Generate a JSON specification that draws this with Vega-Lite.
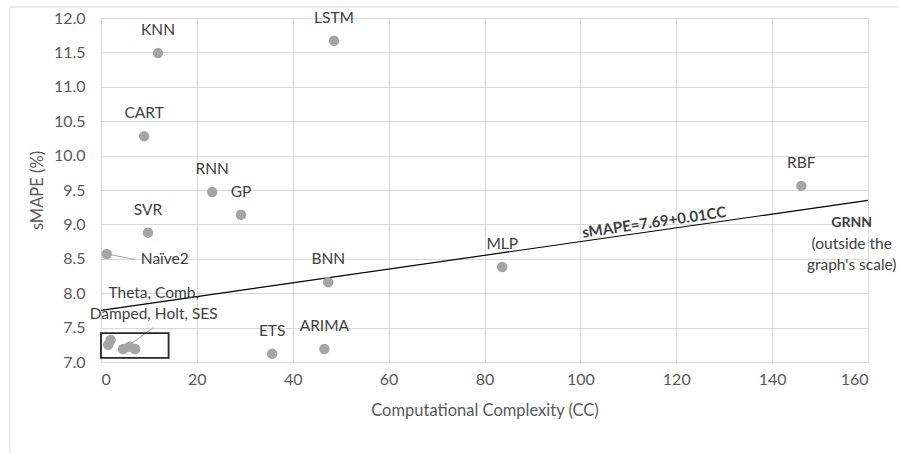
{
  "$schema": "https://vega.github.io/schema/vega-lite/v6.json",
  "autosize": {"type": "none"},
  "width": 767,
  "height": 344,
  "padding": {"left": 101, "top": 18, "right": 31, "bottom": 91},
  "background": "white",
  "config": {
    "font": "Lato",
    "view": {"stroke": "#d9d9d9"},
    "axis": {"grid": true, "gridColor": "#d9d9d9", "domainColor": "#d9d9d9", "ticks": false, "labelColor": "#595959", "titleColor": "#595959", "labelFontSize": 16, "titleFontSize": 16.5, "titleFontWeight": "normal", "labelFont": "Lato", "titleFont": "Lato", "labelOverlap": false}
  },
  "datasets": {
    "pts": [
      {"CC": 11.9, "sMAPE": 11.49, "Method": "KNN"},
      {"CC": 48.6, "sMAPE": 11.67, "Method": "LSTM"},
      {"CC": 9.0, "sMAPE": 10.28, "Method": "CART"},
      {"CC": 23.2, "sMAPE": 9.47, "Method": "RNN"},
      {"CC": 29.2, "sMAPE": 9.14, "Method": "GP"},
      {"CC": 9.8, "sMAPE": 8.88, "Method": "SVR"},
      {"CC": 146.1, "sMAPE": 9.56, "Method": "RBF"},
      {"CC": 83.7, "sMAPE": 8.38, "Method": "MLP"},
      {"CC": 47.4, "sMAPE": 8.16, "Method": "BNN"},
      {"CC": 35.7, "sMAPE": 7.12, "Method": "ETS"},
      {"CC": 46.6, "sMAPE": 7.19, "Method": "ARIMA"},
      {"CC": 1.2, "sMAPE": 8.57, "Method": ""},
      {"CC": 2.0, "sMAPE": 7.32, "Method": ""},
      {"CC": 1.5, "sMAPE": 7.25, "Method": ""},
      {"CC": 4.6, "sMAPE": 7.19, "Method": ""},
      {"CC": 5.9, "sMAPE": 7.22, "Method": ""},
      {"CC": 7.1, "sMAPE": 7.19, "Method": ""}
    ],
    "fit": [
      {"CC": 0, "sMAPE": 7.75},
      {"CC": 160, "sMAPE": 9.35}
    ],
    "connectors": [
      {"id": "a", "CC": 1.2, "sMAPE": 8.57},
      {"id": "a", "CC": 7.1, "sMAPE": 8.49},
      {"id": "b", "CC": 6.4, "sMAPE": 7.27},
      {"id": "b", "CC": 10.9, "sMAPE": 7.5}
    ],
    "frame": [
      {"id": "top", "CC": -19, "sMAPE": 12.16},
      {"id": "top", "CC": 170, "sMAPE": 12.16},
      {"id": "left", "CC": -19, "sMAPE": 12.16},
      {"id": "left", "CC": -19, "sMAPE": 5.6}
    ],
    "box": [{"x1": 0, "x2": 14.1, "y1": 7.06, "y2": 7.42}],
    "notes": [
      {"CC": 8.3, "sMAPE": 8.5, "label": "Naïve2", "kind": "left"},
      {"CC": 11.0, "sMAPE": 8.0, "label": "Theta, Comb,\nDamped, Holt, SES", "kind": "center"},
      {"CC": 156.6, "sMAPE": 8.72, "label": "(outside the\ngraph's scale)", "kind": "center"}
    ],
    "bold": [
      {"CC": 156.6, "sMAPE": 9.02, "label": "GRNN"}
    ],
    "eq": [
      {"CC": 115.4, "sMAPE": 9.03, "label": "sMAPE=7.69+0.01CC"}
    ]
  },
  "encoding": {
    "x": {"field": "CC", "type": "quantitative", "scale": {"domain": [0, 160], "nice": false}, "axis": {"values": [0, 20, 40, 60, 80, 100, 120, 140, 160], "title": "Computational Complexity (CC)", "labelPadding": 9, "titlePadding": 15}},
    "y": {"field": "sMAPE", "type": "quantitative", "scale": {"domain": [7, 12], "zero": false, "nice": false}, "axis": {"values": [7, 7.5, 8, 8.5, 9, 9.5, 10, 10.5, 11, 11.5, 12], "format": ".1f", "title": "sMAPE (%)", "labelPadding": 16, "titlePadding": 8}}
  },
  "layer": [
    {
      "data": {"name": "frame"},
      "mark": {"type": "line", "color": "#d9d9d9", "strokeWidth": 1, "clip": false},
      "encoding": {"detail": {"field": "id"}}
    },
    {
      "data": {"name": "fit"},
      "mark": {"type": "line", "color": "#000000", "strokeWidth": 1.2},
      "encoding": {}
    },
    {
      "data": {"name": "connectors"},
      "mark": {"type": "line", "color": "#a5a5a5", "strokeWidth": 1},
      "encoding": {"detail": {"field": "id"}}
    },
    {
      "data": {"name": "box"},
      "mark": {"type": "rect", "fill": null, "fillOpacity": 0, "stroke": "#262626", "strokeWidth": 1.8},
      "encoding": {
        "x": {"field": "x1", "type": "quantitative"},
        "x2": {"field": "x2"},
        "y": {"field": "y1", "type": "quantitative"},
        "y2": {"field": "y2"}
      }
    },
    {
      "data": {"name": "pts"},
      "mark": {"type": "circle", "size": 110, "color": "#a5a5a5", "opacity": 1},
      "encoding": {}
    },
    {
      "data": {"name": "pts"},
      "mark": {"type": "text", "dy": -23, "fontSize": 15.5, "color": "#404040"},
      "encoding": {"text": {"field": "Method"}}
    },
    {
      "data": {"name": "notes"},
      "transform": [{"filter": "datum.kind == 'left'"}],
      "mark": {"type": "text", "align": "left", "fontSize": 15.5, "color": "#404040"},
      "encoding": {"text": {"field": "label"}}
    },
    {
      "data": {"name": "notes"},
      "transform": [{"filter": "datum.kind == 'center'"}],
      "mark": {"type": "text", "align": "center", "lineBreak": "\n", "lineHeight": 21, "fontSize": 15.5, "color": "#404040"},
      "encoding": {"text": {"field": "label"}}
    },
    {
      "data": {"name": "bold"},
      "mark": {"type": "text", "align": "center", "fontSize": 14, "fontWeight": "bold", "color": "#404040"},
      "encoding": {"text": {"field": "label"}}
    },
    {
      "data": {"name": "eq"},
      "mark": {"type": "text", "align": "center", "angle": 351.8, "fontSize": 15, "fontWeight": "bold", "color": "#404040"},
      "encoding": {"text": {"field": "label"}}
    }
  ]
}
